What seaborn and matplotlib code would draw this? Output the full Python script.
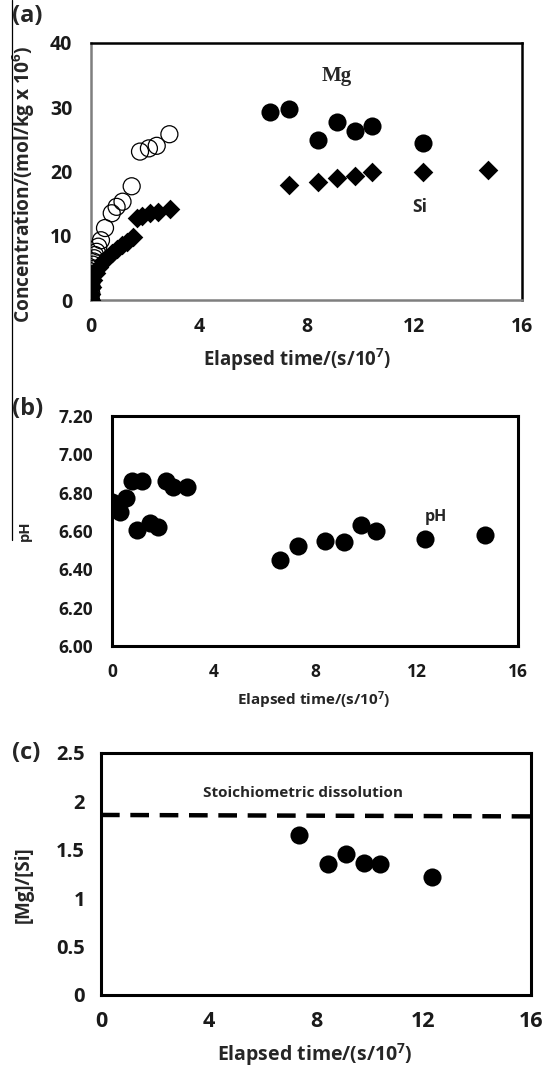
import matplotlib
matplotlib.use("Agg")
import matplotlib.pyplot as plt
import seaborn as sns
from matplotlib.lines import Line2D

# (a) concentration vs elapsed time
mg_early_t = [0.0, 0.01, 0.02, 0.03, 0.04, 0.05, 0.07, 0.09, 0.12, 0.15, 0.21, 0.27,
              0.37, 0.52, 0.77, 0.95, 1.17, 1.51, 1.82, 2.15, 2.44, 2.91]
mg_early_c = [0.0, 1.0, 2.0, 3.0, 4.0, 4.8, 5.5, 6.0, 6.5, 7.0, 7.5, 8.3,
              9.3, 11.2, 13.5, 14.5, 15.3, 17.7, 23.1, 23.6, 24.0, 25.8]
mg_late_t = [6.64, 7.35, 8.41, 9.12, 9.80, 10.42, 12.31]
mg_late_c = [29.3, 29.7, 24.9, 27.75, 26.35, 27.1, 24.4]
si_t = [0.0, 0.01, 0.03, 0.09, 0.19, 0.31, 0.43, 0.58, 0.77, 0.95, 1.14, 1.32, 1.55,
        1.70, 1.88, 2.19, 2.50, 2.93, 7.35, 8.41, 9.12, 9.80, 10.42, 12.31, 14.72]
si_c = [0.0, 1.0, 2.1, 3.1, 4.2, 5.2, 6.0, 6.6, 7.3, 8.0, 8.6, 9.1, 9.85,
        12.7, 13.0, 13.5, 13.7, 14.1, 17.9, 18.3, 19.0, 19.3, 19.97, 20.0, 20.3]

# (b) pH
ph_t = [0.0, 0.2, 0.3, 0.55, 0.78, 0.97, 1.2, 1.5, 1.8, 2.13, 2.41, 2.94,
        6.61, 7.33, 8.41, 9.13, 9.80, 10.42, 12.32, 14.71]
ph_v = [6.75, 6.73, 6.70, 6.77, 6.86, 6.605, 6.86, 6.64, 6.62, 6.86, 6.83, 6.83,
        6.45, 6.52, 6.55, 6.545, 6.63, 6.60, 6.56, 6.58]

# (c) Mg/Si ratio
ratio_t = [7.35, 8.46, 9.12, 9.79, 10.38, 12.30]
ratio_v = [1.651, 1.349, 1.455, 1.359, 1.352, 1.221]
stoich_t = [0, 16]
stoich_v = [1.86, 1.845]

x_ticks = [0, 4, 8, 12, 16]
conc_ticks = [0, 10, 20, 30, 40]
ph_ticks = [6.0, 6.2, 6.4, 6.6, 6.8, 7.0, 7.2]
ratio_ticks = [0, 0.5, 1, 1.5, 2, 2.5]

sns.set_style("white")
FONT = 'Open Sans'
plt.rcParams['font.family'] = [FONT, 'DejaVu Sans']
plt.rcParams['font.weight'] = 'bold'
plt.rcParams['mathtext.fontset'] = 'custom'
plt.rcParams['mathtext.rm'] = FONT + ':bold'
plt.rcParams['mathtext.bf'] = FONT + ':bold'
plt.rcParams['mathtext.default'] = 'rm'

W, H = 542, 1070
fig = plt.figure(figsize=(W / 100, H / 100), dpi=100)
XLAB = 'Elapsed time/(s/10$^{7}$)'


def px_axes(l, t, r, b):
    return fig.add_axes([l / W, 1 - b / H, (r - l) / W, (b - t) / H])


def style(ax, spine_cols, spine_w, tick_size, xtick_size, ypad=12, xpad=11):
    for side, col in spine_cols.items():
        ax.spines[side].set_color(col)
        ax.spines[side].set_linewidth(spine_w)
    ax.tick_params(axis='both', direction='out', length=3.5, width=1, color='#999999',
                   labelcolor='#1a1a1a')
    ax.tick_params(axis='y', labelsize=tick_size, pad=ypad)
    ax.tick_params(axis='x', labelsize=xtick_size, pad=xpad)
    for lab in ax.get_xticklabels() + ax.get_yticklabels():
        lab.set_fontweight('bold')


# ---------- (a)
ax1 = px_axes(91, 43, 522, 300)
sns.scatterplot(x=mg_early_t, y=mg_early_c, ax=ax1, marker='o', s=150,
                color='black', facecolor='none', edgecolor='black', linewidth=0.9, zorder=3)
sns.scatterplot(x=si_t, y=si_c, ax=ax1, marker='D', s=100, color='black',
                edgecolor='black', linewidth=0, zorder=4)
sns.scatterplot(x=mg_late_t, y=mg_late_c, ax=ax1, marker='o', s=170, color='black',
                edgecolor='black', linewidth=0, zorder=4)
ax1.set_xlim(0, 16)
ax1.set_ylim(0, 40)
ax1.set_xticks(x_ticks)
ax1.set_yticks(conc_ticks)
ax1.set_xticklabels([str(v) for v in x_ticks])
ax1.set_yticklabels([str(v) for v in conc_ticks])
style(ax1, {'left': '#7f7f7f', 'bottom': '#7f7f7f', 'top': 'black', 'right': 'black'},
      1.8, 14, 14, ypad=10, xpad=9)
ax1.text(9.13, 34.8, 'Mg', family='Liberation Serif', fontsize=15, fontweight='bold',
         ha='center', va='center')
ax1.text(12.2, 14.5, 'Si', fontsize=12.5, fontweight='bold', ha='center', va='center')
ax1.set_xlabel(XLAB, fontsize=13.5, fontweight='bold')
ax1.xaxis.set_label_coords(297 / W, 1 - 360 / H, transform=fig.transFigure)
ax1.xaxis.label.set_va('center')
ax1.set_ylabel('Concentration/(mol/kg x 10$^{6}$)', fontsize=13.8, fontweight='bold')
ax1.yaxis.set_label_coords(37 / W, 1 - 184 / H, transform=fig.transFigure)

# ---------- (b)
ax2 = px_axes(112, 416, 518, 646)
sns.scatterplot(x=ph_t, y=ph_v, ax=ax2, marker='o', s=170, color='black',
                edgecolor='black', linewidth=0, zorder=4)
ax2.set_xlim(0, 16)
ax2.set_ylim(6.0, 7.2)
ax2.set_xticks(x_ticks)
ax2.set_yticks(ph_ticks)
ax2.set_xticklabels([str(v) for v in x_ticks])
ax2.set_yticklabels(['%.2f' % v for v in ph_ticks])
style(ax2, {s: 'black' for s in ['left', 'bottom', 'top', 'right']}, 2.2, 12.5, 12.5,
      ypad=10, xpad=9)
ax2.text(12.76, 6.675, 'pH', fontsize=11.5, fontweight='bold', ha='center', va='center')
ax2.set_xlabel(XLAB, fontsize=11, fontweight='bold')
ax2.xaxis.set_label_coords(314 / W, 1 - 700 / H, transform=fig.transFigure)
ax2.xaxis.label.set_va('center')
ax2.set_ylabel('pH', fontsize=10.5, fontweight='bold')
ax2.yaxis.set_label_coords(32 / W, 1 - 531 / H, transform=fig.transFigure)

# ---------- (c)
ax3 = px_axes(101, 753, 531, 995)
sns.lineplot(x=stoich_t, y=stoich_v, ax=ax3, color='black', linewidth=3.2,
             linestyle=(0, (4.2, 2.4)))
sns.scatterplot(x=ratio_t, y=ratio_v, ax=ax3, marker='o', s=170, color='black',
                edgecolor='black', linewidth=0, zorder=4)
ax3.set_xlim(0, 16)
ax3.set_ylim(0, 2.5)
ax3.set_xticks(x_ticks)
ax3.set_yticks(ratio_ticks)
ax3.set_xticklabels([str(v) for v in x_ticks])
ax3.set_yticklabels(['0', '0.5', '1', '1.5', '2', '2.5'])
style(ax3, {s: 'black' for s in ['left', 'bottom', 'top', 'right']}, 2.2, 14.5, 15.5,
      ypad=8, xpad=8)
ax3.text(7.5, 2.09, 'Stoichiometric dissolution', fontsize=11, fontweight='bold',
         ha='center', va='center')
ax3.set_xlabel(XLAB, fontsize=14, fontweight='bold')
ax3.xaxis.set_label_coords(315 / W, 1 - 1055 / H, transform=fig.transFigure)
ax3.xaxis.label.set_va('center')
ax3.set_ylabel('[Mg]/[Si]', fontsize=13.5, fontweight='bold')
ax3.yaxis.set_label_coords(34 / W, 1 - 885 / H, transform=fig.transFigure)

# panel letters
for lab, y in [('(a)', 16), ('(b)', 409), ('(c)', 753)]:
    fig.text(12 / W, 1 - y / H, lab, fontsize=17, fontweight='bold', ha='left', va='center')

# thin vertical rule on the left edge
fig.add_artist(Line2D([12 / W, 12 / W], [1, 1 - 540 / H], transform=fig.transFigure,
                      color='black', linewidth=0.9))

fig.savefig('out.png', dpi=100)
